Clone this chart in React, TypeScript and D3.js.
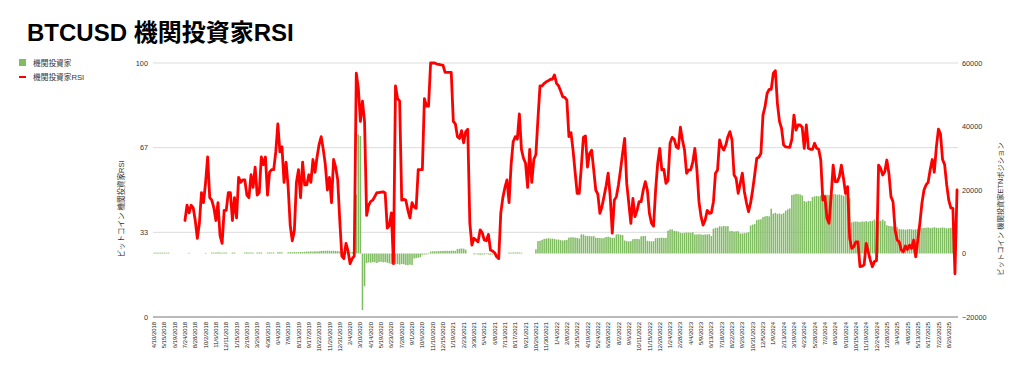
import React from "react";
import * as d3 from "d3";

// ---------- data ----------
const title = "BTCUSD 機関投資家RSI";
const barSeriesName = "機関投資家";
const lineSeriesName = "機関投資家RSI";
const leftAxisTitle = "ビットコイン 機関投資家RSI";
const rightAxisTitle = "ビットコイン 機関投資家ETNポジション";

const firstWeek = "2018-04-10"; // weekly categories, one per Tuesday

const xTickLabels = [
  "4/10/2018","5/15/2018","6/19/2018","7/24/2018","8/28/2018","10/2/2018","11/6/2018","12/11/2018",
  "1/15/2019","2/19/2019","3/26/2019","4/30/2019","6/4/2019","7/9/2019","8/13/2019","9/17/2019",
  "10/22/2019","11/26/2019","12/31/2019","2/4/2020","3/10/2020","4/14/2020","5/19/2020","6/23/2020",
  "7/28/2020","9/1/2020","10/6/2020","11/10/2020","12/15/2020","1/19/2021","2/23/2021","3/30/2021",
  "5/4/2021","6/8/2021","7/13/2021","8/17/2021","9/21/2021","10/26/2021","11/30/2021","1/4/2022",
  "2/8/2022","3/15/2022","4/19/2022","5/24/2022","6/28/2022","8/2/2022","9/6/2022","10/11/2022",
  "11/15/2022","12/20/2022","1/24/2023","2/28/2023","4/4/2023","5/9/2023","6/13/2023","7/18/2023",
  "8/22/2023","9/26/2023","10/31/2023","12/5/2023","1/9/2024","2/13/2024","3/19/2024","4/23/2024",
  "5/28/2024","7/2/2024","8/6/2024","9/10/2024","10/15/2024","11/19/2024","12/24/2024","1/28/2025",
  "3/4/2025","4/8/2025","5/13/2025","6/17/2025","7/22/2025","8/26/2025",
];
const xTickEvery = 5; // a label every 5 weeks

const leftTicks = [0, 100 / 3, 200 / 3, 100];
const rightTicks = [-20000, 0, 20000, 40000, 60000];

// 機関投資家 (institutional positions), weekly
const positions: (number | null)[] = [
  // 0-19
  250,250,250,250,250,250,250,250,null,null,null,null,null,null,null,null,null,200,null,null,
  // 20-39
  null,null,null,null,null,200,null,null,300,250,300,350,300,250,300,300,null,null,300,300,
  // 40-59
  null,null,null,null,300,350,300,300,250,null,300,300,350,null,null,300,350,300,300,null,
  // 60-79
  400,400,350,null,null,350,400,400,450,400,450,500,450,550,600,600,650,600,700,650,
  // 80-99
  700,800,850,850,900,850,800,850,800,750,600,500,500,450,500,400,450,500,18600,37500,
  // 100-119
  37000,-17800,-10300,-3000,-2800,-2900,-2700,-2800,-3000,-2700,-2600,-2800,-2700,-2900,-3100,-3300,-3200,-3400,-3300,-3500,
  // 120-139
  -3300,-3400,-3600,-3700,-3500,-3600,-1600,-1400,-1300,-1200,-400,-300,-300,-200,600,700,700,700,750,800,
  // 140-159
  800,850,850,800,850,900,850,1400,1500,1600,1500,1200,null,null,null,-300,-200,-300,-400,-300,
  // 160-179
  -300,-200,-300,-400,-300,-300,-200,null,null,null,null,null,300,250,300,300,350,300,250,null,
  // 180-199
  null,null,null,null,null,1300,3900,4000,4300,4600,4700,4800,4700,4700,4600,4400,4400,4200,4100,4200,
  // 200-219
  4300,5000,5100,5100,5000,4900,4700,6000,6000,5600,5500,5500,5400,5500,5000,4900,4900,4800,4900,5200,
  // 220-239
  5300,5100,4900,5000,6000,6100,5900,5800,4100,3900,3800,3900,4500,4600,4600,4500,5400,5500,5500,4000,
  // 240-259
  3900,3800,3900,4800,4900,4900,5000,4900,4900,7200,7600,7600,7100,7000,6900,6500,6400,6500,6600,6600,
  // 260-279
  6500,6700,6000,6000,6100,6000,5900,6000,6000,6100,5500,7800,8100,8100,8600,8500,8700,8600,8600,7000,
  // 280-299
  7100,6900,7000,7000,6300,6300,6400,6500,6700,8800,9100,9300,10500,10700,10800,11500,11700,11800,11700,14100,
  // 300-319
  12600,12800,12500,12600,12400,12700,13500,13900,14200,18400,18600,18800,18700,18600,18300,16500,16300,16600,16500,17800,
  // 320-339
  18000,18100,18000,18300,18500,18600,18500,18400,18600,18600,18700,18500,18600,18400,18200,18600,17800,17500,9800,10000,
  // 340-359
  10100,10000,9900,10100,10000,10200,10000,10200,10300,10700,10200,10100,10300,10700,10200,8900,8700,8600,8500,8400,
  // 360-379
  8300,7700,7600,7600,7500,7600,7700,7600,7500,7600,7700,7900,8000,8100,8100,8200,8000,8100,8300,8100,
  // 380-389
  8000,8100,8200,8100,7900,8000,8100,8000,8100,null,
];

// 機関投資家RSI, weekly
const rsi: (number | null)[] = [
  // 0-19
  null,null,null,null,null,null,null,null,null,null,null,null,null,null,null,38,44,41,44,43,
  // 20-39
  38,31,37,49,45,53,63,47,46,43,38,45,32,29,42,42,49,49,38,47,
  // 40-59
  39,55,53,54,54,48,47,56,51,59,48,49,63,60,63,48,57,58,58,65,
  // 60-79
  76,65,67,53,61,51,36,30,34,53,58,47,61,52,52,56,53,62,57,63,
  // 80-99
  68,71,66,60,50,55,45,62,59,54,38,24,23,29,26,21,23,24,96,90,
  // 100-119
  77,85,77,40,44,45.5,46,47.5,49,49,49.2,49.3,48.8,35,36,41,21,91,86,85,
  // 120-139
  46,46.3,46,42,39,45,43.4,42.8,58,58,58,86,83,83,100,100,100,99.6,99.5,99.3,
  // 140-159
  99.2,96.3,96.3,96.3,96.3,77,76,71,70.3,73.4,68.6,73,73.9,37,28.3,31,30.3,29.6,34.3,33.2,
  // 160-179
  30.3,30,32.5,26.4,26,25.3,23.7,23,41,47,51,54,45,60,69,71,70,80,66,62.5,
  // 180-199
  60.5,51,66,53,62,64,78,91,91,92,92.6,93,93.6,93.6,95.3,92,91,89,86.7,86.5,
  // 200-219
  85.4,71,72.6,65.7,57,48.7,48.7,59,70.7,71.3,59,64.4,65.7,58,50,48.4,40.8,43.4,47.4,51.6,
  // 220-239
  56.6,47.4,33,46,47.4,52,57.9,64.4,70.3,52.6,44.8,36.9,46.7,39.5,42,45.4,45.4,50,53.3,50,
  // 240-259
  40.8,36.9,35.8,50,60.5,66.4,57.9,58.1,52.6,53.7,68.4,70.7,70,67,66.4,74.7,69.7,65.7,56.6,57.9,
  // 260-279
  57.9,61,66.4,57.9,45.4,39.5,36.2,38.2,42,40.8,41,45.4,56.6,57.9,69.7,67,65.7,67.7,71,73,
  // 280-299
  69.7,55.9,54.6,48.7,52.6,56.6,49.3,45,41.5,44.8,50,56,62.5,62.9,64.4,79.5,82.8,88,89.6,89.6,
  // 300-319
  95.9,97,84,77,74.3,67.7,67,66.9,66.8,70,79.5,73.6,75.6,75.6,74.7,66.4,75.6,66.4,66,66,
  // 320-339
  68.4,66.4,66,61.8,46,47.4,38.9,36.9,47.4,59.8,53.3,53.3,55.2,59.8,54.6,48.7,51.3,31,27,27.7,
  // 340-359
  29.6,29.6,19.8,20,20.5,29,25.7,22.4,19.8,21.8,22.2,59.8,58.5,55.9,57.2,61.8,56.6,47.4,45.4,34.3,
  // 360-379
  30.3,29.6,26.4,25.7,28,26.6,28.3,27,30.3,23.7,30.3,36.9,44.8,50,52,53,58,62,57,67,
  // 380-389
  74,72,62,60,52,46,43,42.8,17,50,
];

// ---------- layout ----------
const W = 1024;
const H = 380;
const PLOT = { left: 153, right: 958, top: 63, bottom: 317 };
const FONT = "'Liberation Sans', Arial, 'Noto Sans CJK JP', sans-serif";
const BAR_COLOR = "#80bc62";
const LINE_COLOR = "#ff0000";
const GRID_COLOR = "#dcdcdc";
const TEXT_COLOR = "#333333";

export default function App() {
  const start = new Date(firstWeek + "T00:00:00");
  const weeks = positions.map((_, i) => d3.timeWeek.offset(start, i));
  const idx = weeks.map((_, i) => i);

  const x = d3
    .scaleBand<number>()
    .domain(idx)
    .range([PLOT.left, PLOT.right])
    .paddingInner(0.25)
    .paddingOuter(0.1);
  const cx = (i: number) => (x(i) as number) + x.bandwidth() / 2;

  const yL = d3.scaleLinear().domain([0, 100]).range([PLOT.bottom, PLOT.top]);
  const yR = d3.scaleLinear().domain([-20000, 60000]).range([PLOT.bottom, PLOT.top]);

  const line = d3
    .line<number | null>()
    .defined((d) => d != null)
    .x((_, i) => cx(i))
    .y((d) => yL(d as number))
    .curve(d3.curveLinear);

  const y0 = yR(0);

  return (
    <svg
      width={W}
      height={H}
      style={{ position: "absolute", left: 0, top: 0, background: "#fff" }}
      fontFamily={FONT}
    >
      {/* title */}
      <text x={27} y={41} fontSize={24} fontWeight="bold" fill="#000">
        {title}
      </text>

      {/* legend */}
      <rect x={19} y={59} width={7} height={7} fill={BAR_COLOR} />
      <text x={33} y={65.5} fontSize={7.7} fill={TEXT_COLOR}>
        {barSeriesName}
      </text>
      <line x1={19} x2={26} y1={77} y2={77} stroke={LINE_COLOR} strokeWidth={2} />
      <text x={33} y={80} fontSize={7.7} fill={TEXT_COLOR}>
        {lineSeriesName}
      </text>

      {/* grid lines (left axis) */}
      {leftTicks
        .filter((t) => t > 0)
        .map((t) => (
          <line
            key={"g" + t}
            x1={PLOT.left}
            x2={PLOT.right}
            y1={yL(t)}
            y2={yL(t)}
            stroke={GRID_COLOR}
            strokeWidth={1}
          />
        ))}

      {/* left tick labels */}
      {leftTicks.map((t) => (
        <text
          key={"l" + t}
          x={148}
          y={yL(t)}
          dy="0.35em"
          fontSize={7.3}
          textAnchor="end"
          fill={TEXT_COLOR}
        >
          {d3.format(".0f")(t)}
        </text>
      ))}

      {/* right tick labels */}
      {rightTicks.map((t) => (
        <text
          key={"r" + t}
          x={962}
          y={yR(t)}
          dy="0.35em"
          fontSize={7.3}
          textAnchor="start"
          fill={TEXT_COLOR}
        >
          {d3.format("d")(t)}
        </text>
      ))}

      {/* bars */}
      {positions.map((v, i) =>
        v == null ? null : (
          <rect
            key={"b" + i}
            x={x(i)}
            width={x.bandwidth()}
            y={Math.min(yR(v), y0)}
            height={Math.abs(yR(v) - y0)}
            fill={BAR_COLOR}
          />
        )
      )}

      {/* x axis line */}
      <line
        x1={PLOT.left}
        x2={PLOT.right}
        y1={PLOT.bottom}
        y2={PLOT.bottom}
        stroke="#777"
        strokeWidth={1.2}
      />

      {/* RSI line */}
      <path
        d={line(rsi) || ""}
        fill="none"
        stroke={LINE_COLOR}
        strokeWidth={2.8}
        strokeLinejoin="round"
        strokeLinecap="round"
      />

      {/* x tick labels */}
      {xTickLabels.map((lab, k) => {
        const i = k * xTickEvery;
        const px = cx(i);
        return (
          <text
            key={"x" + k}
            transform={`translate(${px},${PLOT.bottom + 5}) rotate(-90)`}
            textAnchor="end"
            dy="0.35em"
            fontSize={5.9}
            fill="#222"
          >
            {lab}
          </text>
        );
      })}

      {/* axis titles */}
      <text
        transform={`translate(121,209) rotate(-90)`}
        textAnchor="middle"
        dy="0.35em"
        fontSize={7.5}
        fill={TEXT_COLOR}
      >
        {leftAxisTitle}
      </text>
      <text
        transform={`translate(1000,209) rotate(-90)`}
        textAnchor="middle"
        dy="0.35em"
        fontSize={7.3}
        fill={TEXT_COLOR}
      >
        {rightAxisTitle}
      </text>
    </svg>
  );
}
